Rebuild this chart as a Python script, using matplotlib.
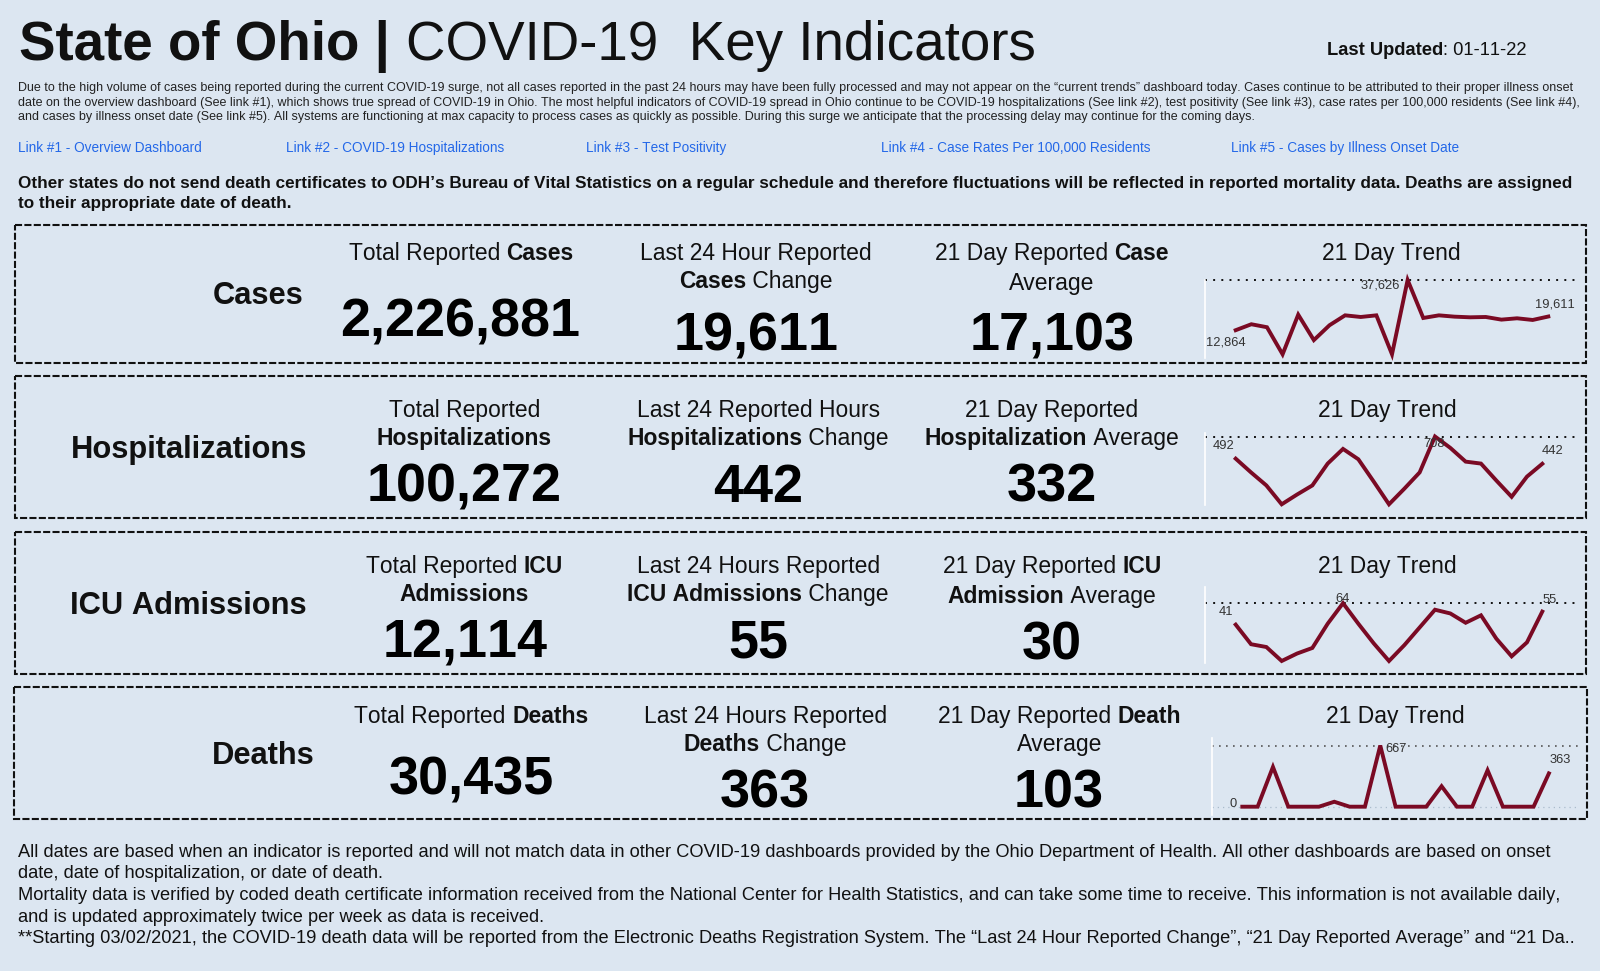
# %%
# Ohio COVID-19 key indicators dashboard
import matplotlib.pyplot as plt
from matplotlib.patches import Rectangle

plt.rcParams["font.family"] = ["Liberation Sans", "DejaVu Sans"]
plt.rcParams["text.kerning_factor"] = 6

# %%
# Data
cases_trend = [12864, 15796, 14330, 970, 20520, 7977, 15300, 20194, 19380, 20190, 970,
               37626, 18890, 20190, 19540, 19220, 19380, 18077, 18730, 17910, 19611]
hosp_trend = [492, 358, 231, 47, 142, 231, 444, 587, 486, 269, 47,
              199, 358, 708, 597, 463, 444, 279, 120, 317, 442]
icu_trend = [41, 20, 17, 2, 10, 16, 42, 64, 42, 21, 2,
             19, 38, 57, 53, 43, 51, 26, 7, 22, 55]
deaths_trend = [0, 0, 433, 0, 0, 0, 54, 0, 0, 667, 0,
                0, 0, 223, 0, 0, 397, 0, 0, 0, 363]

row_names = ["Cases", "Hospitalizations", "ICU Admissions", "Deaths"]
total_values = ["2,226,881", "100,272", "12,114", "30,435"]
change_values = ["19,611", "442", "55", "363"]
average_values = ["17,103", "332", "30", "103"]

intro_lines = [
    "Due to the high volume of cases being reported during the current COVID-19 surge, not all cases reported in the past 24 hours may have been fully processed and may not appear on the “current trends” dashboard today. Cases continue to be attributed to their proper illness onset",
    "date on the overview dashboard (See link #1), which shows true spread of COVID-19 in Ohio. The most helpful indicators of COVID-19 spread in Ohio continue to be COVID-19 hospitalizations (See link #2), test positivity (See link #3), case rates per 100,000 residents (See link #4),",
    "and cases by illness onset date (See link #5). All systems are functioning at max capacity to process cases as quickly as possible. During this surge we anticipate that the processing delay may continue for the coming days.",
]
link_labels = ["Link #1 - Overview Dashboard", "Link #2 - COVID-19 Hospitalizations", "Link #3 - Test Positivity",
               "Link #4 - Case Rates Per 100,000 Residents", "Link #5 - Cases by Illness Onset Date"]
notice_lines = [
    "Other states do not send death certificates to ODH’s Bureau of Vital Statistics on a regular schedule and therefore fluctuations will be reflected in reported mortality data. Deaths are assigned",
    "to their appropriate date of death.",
]
footer_lines = [
    "All dates are based when an indicator is reported and will not match data in other COVID-19 dashboards provided by the Ohio Department of Health. All other dashboards are based on onset",
    "date, date of hospitalization, or date of death.",
    "Mortality data is verified by coded death certificate information received from the National Center for Health Statistics, and can take some time to receive. This information is not available daily,",
    "and is updated approximately twice per week as data is received.",
    "**Starting 03/02/2021, the COVID-19 death data will be reported from the Electronic Deaths Registration System. The “Last 24 Hour Reported Change”, “21 Day Reported Average” and “21 Da..",
]

# %%
# Layout and styles
BG = "#dce6f1"
LINE = "#7a0a24"
LINK = "#2468e8"

fig = plt.figure(figsize=(16, 9.71), dpi=100, facecolor=BG)
canvas = fig.add_axes([0, 0, 1, 1])
canvas.set_xlim(0, 1568)
canvas.set_ylim(952, 0)
canvas.axis("off")
renderer = fig.canvas.get_renderer()


def mixed(x, y, parts, size, align="center"):
    # one line with regular and bold runs, measured so it can be centred
    pieces = []
    for txt, bold in parts:
        t = canvas.text(x, y, txt, fontsize=size, fontweight="bold" if bold else "normal",
                        color="#111111", va="baseline", ha="left")
        pieces.append(t)
    widths = []
    for t in pieces:
        # spaces at the ends are not measured, so use a guard character
        t.set_text(t.get_text().replace(" ", "\u00a0"))
        widths.append(t.get_window_extent(renderer).width * 1568 / 1600)
    left = x - sum(widths) / 2 if align == "center" else x
    for t, w in zip(pieces, widths):
        t.set_x(left)
        left += w


# %%
# Header
mixed(19, 59, [("State of Ohio | ", True), ("COVID-19  Key Indicators", False)], 39.4, align="left")
canvas.texts[-1].set_x(398)
canvas.texts[-2].set_x(19)
mixed(1300, 54, [("Last Updated", True), (": 01-11-22", False)], 13.2, align="left")

for y, line in zip([89, 104, 118], intro_lines):
    canvas.text(18, y, line, fontsize=9.03, color="#222222", va="baseline")

for x, label in zip([18, 280, 574, 863, 1206], link_labels):
    canvas.text(x, 149, label, fontsize=9.85, color=LINK, va="baseline")

for y, line in zip([184, 204], notice_lines):
    canvas.text(18, y, line, fontsize=12.34, fontweight="bold", color="#111111", va="baseline")

# %%
# Indicator rows
boxes = [(15, 221, 1539, 135), (15, 369, 1539, 139), (15, 522, 1539, 139), (14, 674, 1541, 129)]
for x, y, w, h in boxes:
    canvas.add_patch(Rectangle((x, y), w, h, fill=False, ec="#111111", lw=1.5, ls=(0, (3.4, 1.1))))

label_pos = [(253, 298), (185, 449), (185, 602), (258, 749)]
for name, (x, y) in zip(row_names, label_pos):
    canvas.text(x, y, name, fontsize=22.2, fontweight="bold", ha="center", va="baseline", color="#111111")

header_rows = [
    [(452, 255, [("Total Reported ", False), ("Cases", True)]),
     (741, 255, [("Last 24 Hour Reported", False)]),
     (741, 282, [("Cases", True), (" Change", False)]),
     (1031, 255, [("21 Day Reported ", False), ("Case", True)]),
     (1031, 284, [("Average", False)]),
     (1363, 255, [("21 Day Trend", False)])],
    [(455, 409, [("Total Reported", False)]),
     (455, 436, [("Hospitalizations", True)]),
     (743, 409, [("Last 24 Reported Hours", False)]),
     (743, 436, [("Hospitalizations", True), (" Change", False)]),
     (1031, 409, [("21 Day Reported", False)]),
     (1031, 436, [("Hospitalization", True), (" Average", False)]),
     (1360, 409, [("21 Day Trend", False)])],
    [(455, 562, [("Total Reported ", False), ("ICU", True)]),
     (455, 589, [("Admissions", True)]),
     (743, 562, [("Last 24 Hours Reported", False)]),
     (743, 589, [("ICU Admissions", True), (" Change", False)]),
     (1031, 562, [("21 Day Reported ", False), ("ICU", True)]),
     (1031, 591, [("Admission", True), (" Average", False)]),
     (1360, 562, [("21 Day Trend", False)])],
    [(462, 709, [("Total Reported ", False), ("Deaths", True)]),
     (750, 709, [("Last 24 Hours Reported", False)]),
     (750, 736, [("Deaths", True), (" Change", False)]),
     (1038, 709, [("21 Day Reported ", False), ("Death", True)]),
     (1038, 736, [("Average", False)]),
     (1367, 709, [("21 Day Trend", False)])],
]
for row in header_rows:
    for x, y, parts in row:
        mixed(x, y, parts, 16.5)

total_pos = [(451, 330), (455, 492), (456, 645), (462, 779)]
change_pos = [(741, 344), (743, 492), (743, 645), (750, 792)]
average_pos = [(1031, 344), (1031, 492), (1031, 647), (1038, 792)]
for values, positions in [(total_values, total_pos), (change_values, change_pos), (average_values, average_pos)]:
    for value, (x, y) in zip(values, positions):
        canvas.text(x, y, value, fontsize=38.8, fontweight="bold", ha="center", va="baseline", color="#000000")

# %%
# Sparklines, placed in real pixels of the 1600x971 image
trends = [cases_trend, hosp_trend, icu_trend, deaths_trend]
# axis left, first point x, point step, axes top, axes bottom, y of maximum, y of minimum
spark_layout = [
    (1205, 1235.7, 15.63, 280, 358, 280.0, 354.3),
    (1205, 1235.7, 15.33, 433, 505, 436.5, 504.3),
    (1205, 1235.7, 15.33, 587, 663, 603.2, 661.0),
    (1212, 1242.3, 15.33, 738, 815, 745.5, 806.7),
]
# offsets in pixels for first / peak / last labels
label_offsets = [
    [(-10, -12), (-27, -6), (7, 12)],
    [(-12, 13), (-1, -7), (10, 13)],
    [(-10, 13), (0, 4), (7, 12)],
    [(-9, 3), (16, -3), (11, 13)],
]
RIGHT = 1580

for values, (left, first_x, step, top, bottom, y_hi, y_lo), offs in zip(trends, spark_layout, label_offsets):
    ax = fig.add_axes([left / 1600, 1 - bottom / 971, (RIGHT - left) / 1600, (bottom - top) / 971])
    ax.patch.set_alpha(0)
    hi, lo = max(values), min(values)
    per_px = (hi - lo) / (y_lo - y_hi)
    ax.set_ylim(lo - (bottom - y_lo) * per_px, hi + (y_hi - top) * per_px)
    ax.set_xlim((left - first_x) / step, (RIGHT - first_x) / step)
    ax.set_xticks([])
    ax.set_yticks([])
    for side in ["top", "right", "bottom"]:
        ax.spines[side].set_visible(False)
    ax.spines["left"].set_color("white")
    ax.spines["left"].set_linewidth(1.2)

    deaths_row = values is deaths_trend
    ax.axhline(hi, color="#555555" if deaths_row else "#111111", lw=1.2 if deaths_row else 1.4,
               ls=(0, (1, 3.2)), clip_on=False)
    if deaths_row:
        ax.axhline(0, color="#aabbcc", lw=0.9, ls=(0, (1, 3.2)))
    ax.plot(range(len(values)), values, color=LINE, lw=2.8, solid_joinstyle="miter", clip_on=False, zorder=3)

    peak = values.index(hi)
    for idx, (dx, dy) in zip([0, peak, len(values) - 1], offs):
        ax.annotate(f"{values[idx]:,}", (idx, values[idx]), xytext=(dx * 0.72, dy * 0.72),
                    textcoords="offset points", ha="center", va="center", fontsize=9.3,
                    color="#333333", annotation_clip=False, zorder=4)

# %%
# Footer
for y, line in zip([840, 861, 882, 904, 925], footer_lines):
    canvas.text(18, y, line, fontsize=13.14, color="#111111", va="baseline")

fig.savefig("out.png", dpi=100, facecolor=BG)
